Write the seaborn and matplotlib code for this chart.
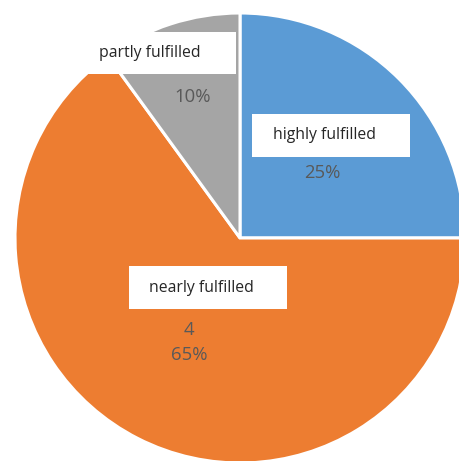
import matplotlib
matplotlib.use("Agg")
import matplotlib.pyplot as plt
from matplotlib.patches import Rectangle
import seaborn as sns

categories = ["highly fulfilled", "nearly fulfilled", "partly fulfilled"]
shares = [25, 65, 10]
counts = ["", "4", ""]
colors = ["#5B9BD5", "#ED7D31", "#A5A5A5"]

sns.set_theme(style="white")
plt.rcParams['font.family'] = ['Open Sans', 'DejaVu Sans']

W, H = 459, 461
fig = plt.figure(figsize=(W / 100, H / 100), dpi=100)
ax = fig.add_axes([0, 0, 1, 1])
cx, cy, R = 240, 238, 225

ax.pie(shares, colors=colors, startangle=90, counterclock=False, radius=1,
       center=(0, 0), frame=False,
       wedgeprops=dict(edgecolor='white', linewidth=2.2))
ax.set_aspect('auto')
ax.set_xlim(-cx / R, (W - cx) / R)
ax.set_ylim(-(H - cy) / R, cy / R)
ax.axis('off')


def px(x, y):
    return ((x - cx) / R, (cy - y) / R)


# label layout in pixels: box (x0, y0, x1, y1), name centre, count centre, pct centre
layout = {
    "highly fulfilled": dict(box=(252, 114, 410, 157), name=(324, 135), count=None, pct=(322, 173)),
    "nearly fulfilled": dict(box=(129, 266, 287, 309), name=(201, 288), count=(189, 330), pct=(189, 355)),
    "partly fulfilled": dict(box=(64, 32, 236, 74), name=(150, 53), count=None, pct=(193, 97)),
}

for cat, share, cnt in zip(categories, shares, counts):
    L = layout[cat]
    x0, y0, x1, y1 = L["box"]
    bx, by = px(x0, y1)
    ax.add_patch(Rectangle((bx, by), (x1 - x0) / R, (y1 - y0) / R,
                           facecolor='white', edgecolor='none', zorder=5))
    nx, ny = px(*L["name"])
    ax.text(nx, ny, cat, ha='center', va='center', fontsize=11.3,
            color='#262626', zorder=6)
    if cnt and L["count"]:
        tx, ty = px(*L["count"])
        ax.text(tx, ty, cnt, ha='center', va='center', fontsize=13.3,
                color='#595959', zorder=4)
    qx, qy = px(*L["pct"])
    ax.text(qx, qy, f"{share}%", ha='center', va='center', fontsize=13.3,
            color='#595959', zorder=4)

fig.savefig("out.png", dpi=100)
